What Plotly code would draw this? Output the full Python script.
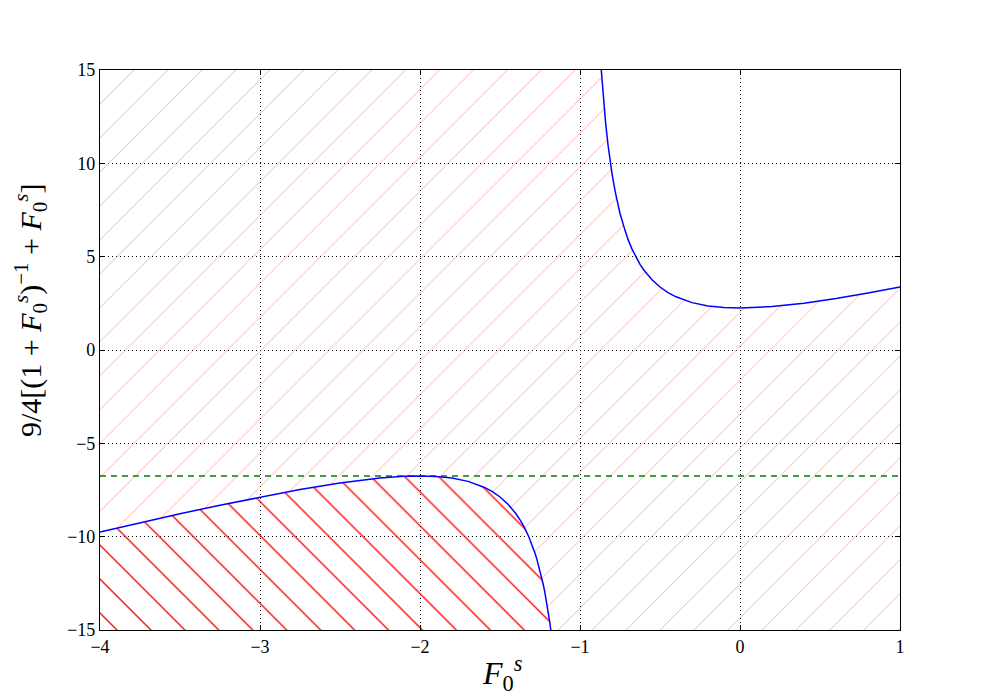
import plotly.graph_objects as go

# axis limits
x_min, x_max = -4, 1
y_min, y_max = -15, 15

# left branch of 9/4[(1+F)^-1 + F]
left_x = [-4.0, -3.75, -3.5, -3.25, -3.0, -2.75, -2.5, -2.25, -2.1, -2.0, -1.9, -1.8,
          -1.7, -1.6, -1.55, -1.5, -1.45, -1.4, -1.37, -1.35, -1.32, -1.3, -1.28, -1.27,
          -1.25, -1.24, -1.23, -1.22, -1.21, -1.2, -1.19, -1.1825]
left_y = [-9.75, -9.256, -8.775, -8.3125, -7.875, -7.473, -7.125, -6.8625, -6.77, -6.75, -6.775, -6.8625,
          -7.039, -7.35, -7.575, -7.875, -8.2625, -8.775, -9.164, -9.466, -10.001, -10.425, -10.916, -11.19,
          -11.8125, -12.165, -12.55, -12.972, -13.437, -13.95, -14.52, -15.0]

# right branch
right_x = [-0.867, -0.86, -0.85, -0.84, -0.825, -0.81, -0.8, -0.78, -0.75, -0.72, -0.7, -0.675,
           -0.65, -0.625, -0.6, -0.55, -0.5, -0.45, -0.4, -0.35, -0.3, -0.2, -0.1, 0.0,
           0.2, 0.4, 0.6, 0.8, 1.0]
right_y = [15.0, 14.14, 13.0875, 12.17, 11.0, 10.0, 9.45, 8.486, 7.3125, 6.45, 5.925, 5.407,
           4.966, 4.585, 4.275, 3.7625, 3.375, 3.078, 2.85, 2.674, 2.539, 2.3625, 2.275, 2.25,
           2.325, 2.507, 2.756, 3.05, 3.375]

# horizontal level (local max of the left branch)
level = -6.75

fig = go.Figure()

# light pink hatch: everything above the left branch and below the right branch
pink_x = left_x + [x_max] + right_x[::-1] + [x_min]
pink_y = left_y + [y_min] + right_y[::-1] + [y_max]
fig.add_trace(go.Scatter(x=pink_x, y=pink_y, mode="lines", fill="toself",
                         fillcolor="rgba(0,0,0,0)", line=dict(width=0),
                         fillpattern=dict(shape="/", fgcolor="#ff8c8c", bgcolor="rgba(0,0,0,0)",
                                          size=24, solidity=0.04, fgopacity=0.7),
                         hoverinfo="skip", showlegend=False))

# red hatch under the left branch
red_x = left_x + [x_min]
red_y = left_y + [y_min]
fig.add_trace(go.Scatter(x=red_x, y=red_y, mode="lines", fill="toself",
                         fillcolor="rgba(0,0,0,0)", line=dict(width=0),
                         fillpattern=dict(shape="\\", fgcolor="#ff0000", bgcolor="rgba(0,0,0,0)",
                                          size=24, solidity=0.055, fgopacity=1),
                         hoverinfo="skip", showlegend=False))

# dashed green level
fig.add_trace(go.Scatter(x=[x_min, x_max], y=[level, level], mode="lines",
                         line=dict(color="#008000", width=1.3, dash="6px,5px"), showlegend=False))

# blue curve
fig.add_trace(go.Scatter(x=left_x, y=left_y, mode="lines",
                         line=dict(color="#0000ff", width=1.5), showlegend=False))
fig.add_trace(go.Scatter(x=right_x, y=right_y, mode="lines",
                         line=dict(color="#0000ff", width=1.5), showlegend=False))

font = "Liberation Serif"
axis_common = dict(showline=True, linecolor="black", linewidth=1.2, mirror="ticks",
                   ticks="inside", ticklen=5, tickcolor="black", automargin=False,
                   showgrid=True, gridcolor="black", gridwidth=0.8, griddash="1px,3px",
                   zeroline=False, tickfont=dict(family=font, size=18, color="black"))

fig.update_xaxes(range=[x_min, x_max], dtick=1, tick0=0, **axis_common)
fig.update_yaxes(range=[y_min, y_max], dtick=5, tick0=0, **axis_common)

# axis labels as annotations for exact placement
fig.add_annotation(text="<i>F</i><sub>0</sub><sup><i>s</i></sup>",
                   xref="paper", yref="paper", x=0.5, y=0, xanchor="center", yanchor="middle",
                   xshift=2, yshift=-43, showarrow=False,
                   font=dict(family=font, size=32, color="black"))
fig.add_annotation(text="9/4[(1 + <i>F</i><sub>0</sub><sup><i>s</i></sup>)<sup>−1</sup> + <i>F</i><sub>0</sub><sup><i>s</i></sup>]",
                   xref="paper", yref="paper", x=0, y=0.5, xanchor="center", yanchor="middle",
                   xshift=-70, yshift=40, textangle=-90, showarrow=False,
                   font=dict(family=font, size=30, color="black"))

# margins compensate for the 8px page body offset
fig.update_layout(width=1000, height=700, margin=dict(l=92, r=108, t=62, b=78),
                  plot_bgcolor="white", paper_bgcolor="white")

fig.write_html("out.html")
